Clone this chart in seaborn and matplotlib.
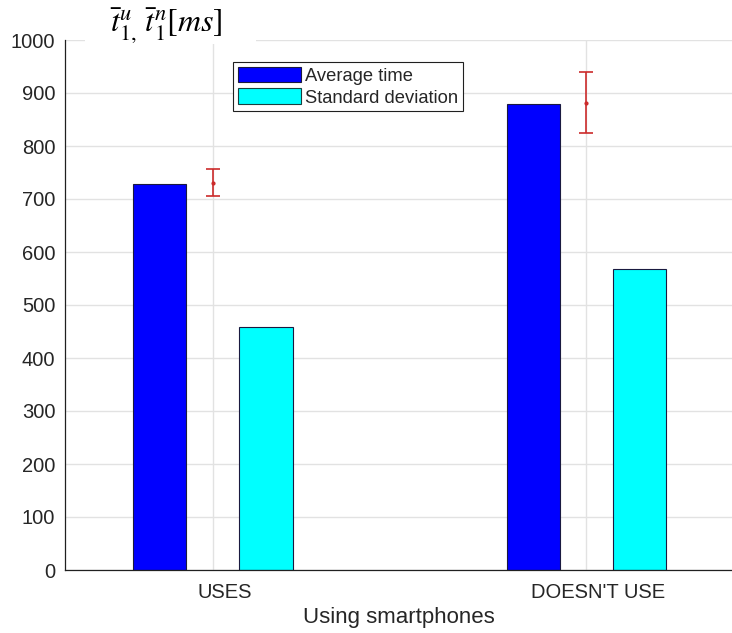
import pandas as pd
import matplotlib
matplotlib.use("Agg")
import matplotlib.pyplot as plt
import matplotlib.transforms as mtransforms
from matplotlib.patches import Patch, Rectangle
import seaborn as sns

# values
groups = ["USES", "DOESN'T USE"]
measures = ["Average time", "Standard deviation"]
avg_time = [728, 880]
std_dev = [458, 567]
err_center = [731, 882]
err_half = [25, 58]

df = pd.DataFrame({
    "group": groups * 2,
    "measure": [measures[0]] * 2 + [measures[1]] * 2,
    "value": avg_time + std_dev,
})

sns.set_theme(style="white")
plt.rcParams["font.family"] = ["Liberation Sans", "DejaVu Sans"]
plt.rcParams["mathtext.fontset"] = "stix"

fig = plt.figure(figsize=(7.32, 6.33), dpi=100)
ax = fig.add_axes([65 / 732, 1 - 570 / 633, 667 / 732, 530 / 633])

sns.barplot(data=df, x="group", y="value", hue="measure", order=groups,
            hue_order=measures, palette=["#0000ff", "#00ffff"], saturation=1,
            width=0.57, gap=0.5, edgecolor="#1a1a40", linewidth=0.8,
            legend=False, ax=ax)

ax.errorbar(x=[0, 1], y=err_center, yerr=err_half, fmt=".", color="#cc2b2b",
            ecolor="#cc2b2b", elinewidth=1.2, capsize=4.8, capthick=1.2,
            markersize=4, zorder=5)

ax.set_xlim(-0.396, 1.39)
ax.set_ylim(0, 1000)
ax.set_yticks(range(0, 1001, 100))
ax.grid(True, color="#e2e2e2", linewidth=1)
ax.set_axisbelow(True)

for side in ["top", "right"]:
    ax.spines[side].set_visible(False)
for side in ["left", "bottom"]:
    ax.spines[side].set_color("#202020")
    ax.spines[side].set_linewidth(0.9)

ax.tick_params(axis="both", direction="in", length=4.5, width=0.8,
               labelsize=14.5, colors="#262626", pad=7)
ax.tick_params(axis="x", pad=9)
ax.set_xlabel("Using smartphones", fontsize=16, color="#262626", labelpad=4)
ax.set_ylabel("")

# tick labels sit a little right of the ticks in the original
offset = mtransforms.ScaledTranslation(0.12, 0, fig.dpi_scale_trans)
for lbl in ax.get_xticklabels():
    lbl.set_transform(lbl.get_transform() + offset)

handles = [Patch(facecolor="#0000ff", edgecolor="#1a1a40", linewidth=0.8),
           Patch(facecolor="#00ffff", edgecolor="#1a4040", linewidth=0.8)]
leg = ax.legend(handles, measures, loc="upper left",
                bbox_to_anchor=((233 - 65) / 667, (570 - 62) / 530),
                fontsize=13.2, frameon=True, fancybox=False, framealpha=1,
                edgecolor="#202020", handlelength=3.45, handleheight=0.95,
                labelspacing=0.2, handletextpad=0.25, borderpad=0.25,
                borderaxespad=0)
leg.get_frame().set_linewidth(0.8)

# axis unit label pasted over the top edge
fig.patches.append(Rectangle((85 / 732, 1 - 44 / 633), 171 / 732, 44 / 633,
                             transform=fig.transFigure, facecolor="white",
                             edgecolor="none", zorder=2))
fig.text(110 / 732, 1 - 26 / 633, r"$\bar{t}_{1,}^{u}\,\bar{t}_{1}^{n}[ms]$",
         fontsize=23, va="center", ha="left", color="black", zorder=3)

fig.savefig("out.png", dpi=100)
